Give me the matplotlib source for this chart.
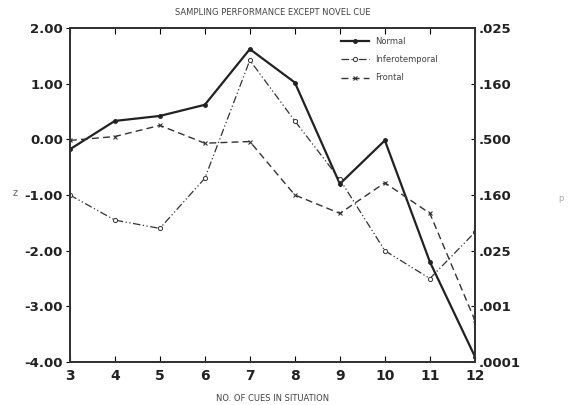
import matplotlib.pyplot as plt

cues = [3, 4, 5, 6, 7, 8, 9, 10, 11, 12]
normal = [-0.18, 0.33, 0.42, 0.62, 1.62, 1.02, -0.80, -0.02, -2.20, -3.90]
infero = [-1.00, -1.45, -1.60, -0.70, 1.42, 0.33, -0.72, -2.00, -2.50, -1.67]
frontal = [-0.02, 0.05, 0.25, -0.07, -0.04, -1.00, -1.33, -0.78, -1.33, -3.25]

z_ticks = [2, 1, 0, -1, -2, -3, -4]
z_labels = ["2.00", "1.00", "0.00", "-1.00", "-2.00", "-3.00", "-4.00"]
p_labels = [".025", ".160", ".500", ".160", ".025", ".001", ".0001"]

fig = plt.figure(figsize=(5.77, 4.05), dpi=100)
ax = fig.add_axes([0.121, 0.106, 0.702, 0.825])

ax.plot(cues, normal, color="#222222", lw=1.6, marker="o", ms=2.5, label="Normal")
ax.plot(cues, infero, color="#333333", lw=0.9, ls=(0, (6, 2, 1, 2, 1, 2)),
        marker="o", ms=3, mfc="white", mew=0.7, label="Inferotemporal")
ax.plot(cues, frontal, color="#333333", lw=1.0, ls=(0, (5, 3)),
        marker="x", ms=3.5, mew=0.8, label="Frontal")

ax.set_xlim(3, 12)
ax.set_ylim(-4, 2)
ax.set_xticks(cues)
ax.set_xticklabels([str(c) for c in cues], fontsize=10, fontweight="bold", color="#222222")
ax.set_yticks(z_ticks)
ax.set_yticklabels(z_labels, fontsize=9.5, fontweight="bold", color="#222222")
ax.tick_params(axis="x", direction="in", length=4, top=True, pad=5)
ax.tick_params(axis="y", direction="out", length=3, pad=2)
for s in ax.spines.values():
    s.set_linewidth(1.4)
    s.set_color("#333333")

ax2 = ax.twinx()
ax2.set_ylim(-4, 2)
ax2.set_yticks(z_ticks)
ax2.set_yticklabels(p_labels, fontsize=9.5, fontweight="bold", color="#222222")
ax2.tick_params(axis="y", direction="in", length=3, pad=3)
for s in ax2.spines.values():
    s.set_linewidth(1.4)
    s.set_color("#333333")

ax.set_title("SAMPLING PERFORMANCE EXCEPT NOVEL CUE", fontsize=6, color="#444444", pad=9)
ax.set_xlabel("NO. OF CUES IN SITUATION", fontsize=6, color="#444444", labelpad=8)
fig.text(0.022, 0.523, "z", fontsize=7, color="#666666", va="center")
fig.text(0.968, 0.51, "p", fontsize=6, color="#aaaaaa", va="center")

ax.legend(loc="upper left", bbox_to_anchor=(0.65, 0.995), frameon=False, fontsize=6,
          handlelength=3.4, labelspacing=1.1, labelcolor="#444444")

fig.savefig("out.png", dpi=100)
